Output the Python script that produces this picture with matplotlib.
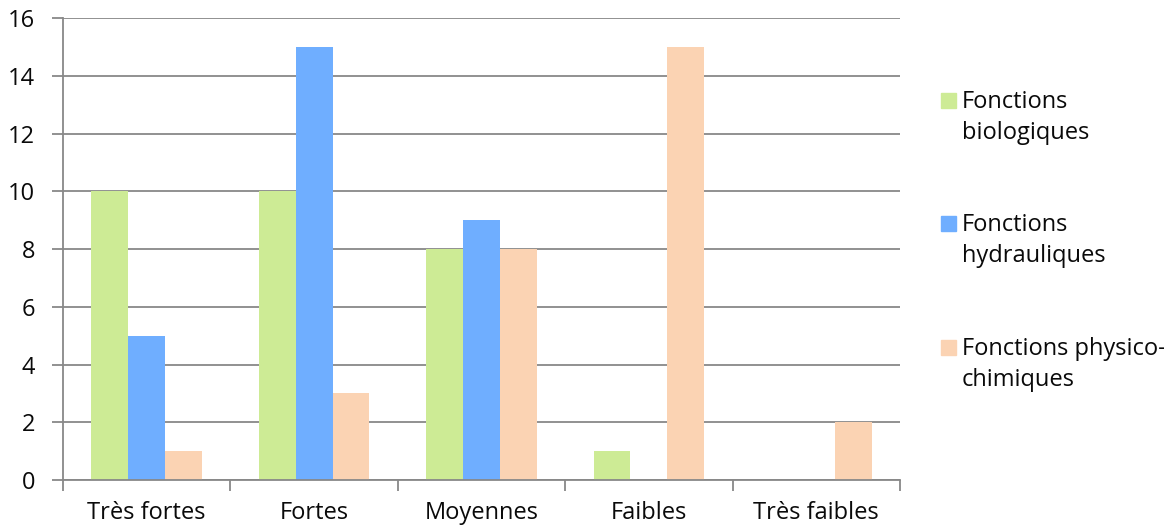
import matplotlib
matplotlib.use("Agg")
import matplotlib.pyplot as plt
import numpy as np
from matplotlib.patches import Rectangle

plt.rcParams['font.family'] = ['Open Sans', 'DejaVu Sans']

categories = ["Très fortes", "Fortes", "Moyennes", "Faibles", "Très faibles"]
series_labels = ["Fonctions\nbiologiques", "Fonctions\nhydrauliques", "Fonctions physico-\nchimiques"]
biologiques = [10, 10, 8, 1, 0]
hydrauliques = [5, 15, 9, 0, 0]
physico_chimiques = [1, 3, 8, 15, 2]
y_ticks = [0, 2, 4, 6, 8, 10, 12, 14, 16]

colors = ["#CDEB95", "#6FAEFF", "#FBD3B3"]
text_color = "#0a0a0a"
W, H = 1164, 526
fig = plt.figure(figsize=(W / 100, H / 100), dpi=100)
ax = fig.add_axes([63 / W, 1 - 480 / H, (900 - 63) / W, (480 - 18) / H])

x = np.arange(len(categories))
width = 0.22
for k, (vals, col) in enumerate(zip([biologiques, hydrauliques, physico_chimiques], colors)):
    ax.bar(x + (k - 1) * width, vals, width=width, color=col, zorder=2)

ax.set_xlim(-0.5, len(categories) - 0.5)
ax.set_ylim(0, 16)
ax.set_yticks(y_ticks)
ax.set_yticklabels([str(v) for v in y_ticks])
ax.yaxis.grid(True, color="#888888", linewidth=1.3, zorder=0)
ax.set_axisbelow(True)

# Category ticks sit on the boundaries; labels go in the middle
ax.set_xticks(np.arange(len(categories) + 1) - 0.5)
ax.set_xticklabels([])
ax.set_xticks(x, minor=True)
ax.set_xticklabels(categories, minor=True)
ax.tick_params(axis="x", which="major", length=8, width=1.3, color="#888888", direction="out")
ax.tick_params(axis="x", which="minor", length=0, pad=15, labelsize=17, labelcolor=text_color)
ax.tick_params(axis="y", length=8, width=1.3, color="#888888", direction="out", pad=12,
               labelsize=17, labelcolor=text_color)

for side in ["top", "right"]:
    ax.spines[side].set_visible(False)
for side in ["left", "bottom"]:
    ax.spines[side].set_color("#888888")
    ax.spines[side].set_linewidth(1.3)

# Legend drawn on the right, one square swatch per series
swatch_bottoms = [108, 231, 355]
for label, col, yb in zip(series_labels, colors, swatch_bottoms):
    fig.patches.append(Rectangle((941 / W, 1 - yb / H), 15 / W, 15 / H,
                                 transform=fig.transFigure, color=col))
    for i, line in enumerate(label.split("\n")):
        fig.text(962 / W, 1 - (yb + i * 31) / H, line, fontsize=17,
                 va="baseline", ha="left", color=text_color)

fig.savefig("out.png", dpi=100)
